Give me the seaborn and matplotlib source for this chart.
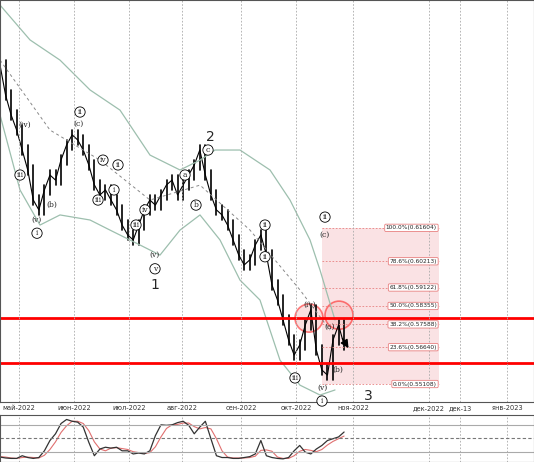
import numpy as np
import matplotlib.pyplot as plt
import seaborn as sns
from matplotlib.patches import Ellipse, Rectangle

sns.set_theme(style="white")
plt.rcParams['font.family'] = ['DejaVu Sans']

# price closes, one every ~3 days (x in chart units)
close = [0.6838, 0.6713, 0.6630, 0.6567, 0.6484, 0.6401, 0.6276, 0.6235, 0.6318, 0.6380,
         0.6359, 0.6443, 0.6505, 0.6547, 0.6526, 0.6484, 0.6422, 0.6339, 0.6297, 0.6318,
         0.6276, 0.6235, 0.6172, 0.6131, 0.6110, 0.6172, 0.6235, 0.6276, 0.6255, 0.6297,
         0.6339, 0.6359, 0.6297, 0.6339, 0.6380, 0.6422, 0.6484, 0.6380, 0.6297, 0.6235,
         0.6214, 0.6172, 0.6110, 0.6048, 0.6006, 0.6027, 0.6089, 0.6131, 0.6048, 0.5923,
         0.5860, 0.5777, 0.5694, 0.5631, 0.5673, 0.5756, 0.5819, 0.5652, 0.5569, 0.5548,
         0.5694, 0.5756, 0.5673]
bar_step = 5.55

band_x = [0, 30, 60, 90, 120, 150, 180, 200, 215, 240, 270, 290, 310, 320, 335]
upper = [0.7087, 0.6942, 0.6858, 0.6734, 0.6650, 0.6463, 0.6401, 0.6442, 0.6484, 0.6484,
         0.6401, 0.6276, 0.6110, 0.5985, 0.5777]
low_x = [0, 20, 40, 60, 90, 110, 140, 160, 180, 200, 220, 240, 260, 280, 300, 320, 335]
lower = [0.6630, 0.6318, 0.6172, 0.6214, 0.6193, 0.6151, 0.6089, 0.6047, 0.6151, 0.6214,
         0.6110, 0.5943, 0.5860, 0.5610, 0.5506, 0.5465, 0.5486]
mid_x = [0, 50, 100, 150, 200, 250, 300, 330]
mid = [0.6858, 0.6567, 0.6442, 0.6276, 0.6338, 0.6151, 0.5902, 0.5735]

fib_pct = ["100.0%", "78.6%", "61.8%", "50.0%", "38.2%", "23.6%", "0.0%"]
fib_val = [0.61604, 0.60213, 0.59122, 0.58355, 0.57588, 0.56640, 0.55108]
res_lines = [0.5785, 0.5598]

tick_pos = [19, 74, 129, 182, 241, 296, 353, 429, 460, 507]
tick_lab = ["май-2022", "июн-2022", "июл-2022", "авг-2022", "сен-2022", "окт-2022",
            "ноя-2022", "дек-2022", "дек-13", "янв-2023"]

stoch_k = [8, 6, 5, 5, 11, 7, 5, 7, 22, 45, 60, 83, 92, 88, 86, 75, 41, 11, 26, 30,
           28, 30, 22, 22, 15, 17, 15, 22, 56, 80, 79, 80, 85, 88, 79, 60, 75, 88, 49, 11,
           7, 7, 5, 5, 7, 9, 15, 45, 11, 7, 5, 4, 7, 22, 34, 19, 15, 26, 34, 45, 49, 53, 64]
stoch_d = [9, 8, 6, 5, 7, 8, 7, 6, 12, 25, 42, 63, 78, 88, 88, 83, 67, 42, 26, 22,
           28, 29, 27, 25, 20, 18, 16, 18, 31, 53, 72, 80, 81, 84, 84, 76, 71, 74, 71, 49,
           22, 8, 6, 6, 6, 7, 10, 23, 24, 21, 8, 5, 5, 11, 21, 25, 23, 20, 25, 35, 43, 49, 55]

labels = [("2", 210, 0.6538, False), ("1", 155, 0.5922, False), ("3", 368, 0.5460, False),
          ("ii", 80, 0.6642, True), ("(c)", 78, 0.6592, False), ("(iv)", 25, 0.6588, False),
          ("iii", 20, 0.6380, True), ("(b)", 52, 0.6255, False), ("(v)", 37, 0.6193, False),
          ("i", 37, 0.6138, True), ("c", 208, 0.6484, True), ("a", 185, 0.6380, True),
          ("b", 196, 0.6255, True), ("iv", 145, 0.6235, True), ("(v)", 155, 0.6047, False),
          ("v", 155, 0.5990, True), ("iii", 136, 0.6172, True), ("iii", 98, 0.6276, True),
          ("iv", 103, 0.6442, True), ("ii", 118, 0.6422, True), ("i", 114, 0.6318, True),
          ("ii", 325, 0.6205, True), ("(c)", 325, 0.6130, False), ("(iv)", 310, 0.5840, False),
          ("(a)", 330, 0.5748, False), ("(b)", 338, 0.5569, False), ("(v)", 322, 0.5494, False),
          ("iii", 295, 0.5536, True), ("i", 322, 0.5440, True), ("ii", 265, 0.6172, True),
          ("ii", 265, 0.6040, True)]

fig = plt.figure(figsize=(5.34, 4.62), dpi=100)
ax = fig.add_axes([0, 60 / 462, 1, 402 / 462])
ax2 = fig.add_axes([0, 0, 1, 47 / 462], sharex=ax)

xs = np.arange(len(close)) * bar_step
for i in range(1, len(close)):
    ax.plot([xs[i], xs[i]], [min(close[i - 1], close[i]) - 0.002, max(close[i - 1], close[i]) + 0.002],
            color="black", lw=1.2)
sns.lineplot(x=xs, y=close, ax=ax, color="black", lw=0.8)
sns.lineplot(x=band_x, y=upper, ax=ax, color="#9dbfae", lw=0.9)
sns.lineplot(x=low_x, y=lower, ax=ax, color="#9dbfae", lw=0.9)
ax.plot(mid_x, mid, color="#888888", lw=0.7, ls=(0, (3, 3)))

ax.add_patch(Rectangle((322, fib_val[-1]), 117, fib_val[0] - fib_val[-1],
                       facecolor="#f3b8bc", alpha=0.4, edgecolor="none"))
for p, v in zip(fib_pct, fib_val):
    ax.plot([322, 439], [v, v], color="#e88080", lw=0.6, ls=(0, (2, 2)))
    ax.text(437, v, f"{p}({v:.5f})", fontsize=4.2, ha="right", va="center",
            bbox=dict(boxstyle="round,pad=0.2", fc="white", ec="#e88080", lw=0.6))
for v in res_lines:
    ax.axhline(v, color="red", lw=2)
for cx, cy in [(309, 0.5785), (339, 0.5797)]:
    ax.add_patch(Ellipse((cx, cy), 28, 0.0117, facecolor="#f6c0c0", alpha=0.5,
                         edgecolor="red", lw=1.2))
ax.annotate("", xy=(350, 0.5650), xytext=(341, 0.5710),
            arrowprops=dict(arrowstyle="-|>", color="black", lw=1))

for t, x, y, circ in labels:
    kw = dict(boxstyle="circle,pad=0.15", fc="white", ec="black", lw=0.6) if circ else None
    ax.text(x, y, t, fontsize=10 if t in "123" else 5.5, ha="center", va="center",
            family="DejaVu Serif" if t not in "123" else "DejaVu Sans", bbox=kw)

for tp in tick_pos:
    ax.axvline(tp, color="#aaaaaa", lw=0.6, ls=(0, (2, 2)))
    ax2.axvline(tp, color="#aaaaaa", lw=0.6, ls=(0, (2, 2)))
ax.set_xlim(0, 534)
ax.set_ylim(0.5436, 0.7108)
ax.set_yticks([])
ax.set_xticks(tick_pos)
ax.set_xticklabels(tick_lab, fontsize=4.8)
ax.tick_params(axis="x", pad=2, length=0, labelcolor="#333333")

sns.lineplot(x=xs, y=stoch_d, ax=ax2, color="#e07070", lw=0.8)
sns.lineplot(x=xs, y=stoch_k, ax=ax2, color="#333333", lw=0.9)
for lv, ls in [(80, "-"), (50, (0, (3, 2))), (20, "-")]:
    ax2.axhline(lv, color="#777777" if ls != "-" else "#aaaaaa", lw=0.8, ls=ls)
ax2.set_ylim(-3, 102)
ax2.set_yticks([])
ax2.tick_params(axis="x", labelbottom=False, length=0)
for a in (ax, ax2):
    for s in a.spines.values():
        s.set_color("#555555")
        s.set_linewidth(0.8)

fig.savefig("out.png", dpi=100)
